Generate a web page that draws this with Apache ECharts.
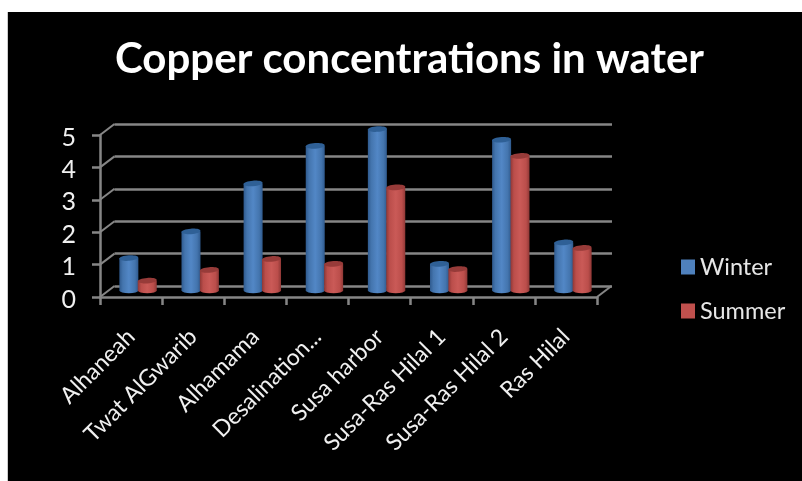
<!DOCTYPE html>
<html><head><meta charset="utf-8">
<style>
html,body{margin:0;padding:0;background:#fff;width:802px;height:481px;overflow:hidden}
#bg{position:absolute;left:7px;top:12px;width:795px;height:469px;background:#000;border-left:1px solid #ccc;box-sizing:border-box}
#chart{position:absolute;left:0;top:0;width:802px;height:481px}
</style>
<script src="https://cdn.jsdelivr.net/npm/echarts@6/dist/echarts.min.js"></script>
</head><body><div id="bg"></div><div id="chart"></div>
<script>
const categories=['Alhaneah','Twat AlGwarib','Alhamama','Desalination...','Susa harbor','Susa-Ras Hilal 1','Susa-Ras Hilal 2','Ras Hilal'];
const winter=[1.08,1.9,3.38,4.54,5.06,0.9,4.73,1.56];
const summer=[0.38,0.71,1.05,0.9,3.26,0.74,4.23,1.39];
const yTicks=[0,1,2,3,4,5];
const FONT='Lato, "Open Sans", sans-serif';
const GRIDC='#868686';
const DX=14.5, DY=-11;
function cyl(base,dark,light,top,off){
  return function(params,api){
    const i=api.value(0), v=api.value(1);
    const c0=api.coord([i,0]), c1=api.coord([i,v]);
    const w=19, rx=w/2, ry=2.8;
    const cx=c0[0]+7+off*9.2;
    const by=c0[1]-6.5, ty=c1[1]-4;
    const l=cx-rx,r=cx+rx;
    const body=`M${l} ${ty} L${l} ${by} A${rx} ${ry} 0 0 0 ${r} ${by} L${r} ${ty} Z`;
    return {type:'group',children:[
      {type:'path',shape:{pathData:body,layout:'cover',x:l,y:ty,width:w,height:by-ty+ry},
       style:{fill:new echarts.graphic.LinearGradient(0,0,1,0,[
         {offset:0,color:dark},{offset:.18,color:base},{offset:.5,color:light},{offset:.82,color:base},{offset:1,color:dark}])}},
      {type:'ellipse',shape:{cx:cx,cy:ty,rx:rx,ry:ry},rotation:0.07,originX:cx,originY:ty,style:{fill:top}}
    ]};
  };
}
const option={
  animation:false,
  backgroundColor:'transparent',
  title:{text:'Copper concentrations in water',left:404.5,top:33,textAlign:'center',
    textStyle:{color:'#fff',fontFamily:FONT,fontWeight:'bold',fontSize:42}},
  legend:{left:676,top:250,orient:'vertical',itemWidth:14,itemHeight:15,itemGap:20,
    data:['Winter','Summer'],icon:'rect',
    textStyle:{color:'#e6e6e6',fontFamily:FONT,fontSize:23.5}},
  grid:[
    {left:100,right:205,top:135,bottom:184},
    {left:114.5,right:190,top:124,bottom:195}
  ],
  xAxis:[
    {type:'category',gridIndex:0,data:categories,boundaryGap:true,
     axisLine:{show:true,lineStyle:{color:GRIDC,width:2.5}},
     axisTick:{show:true,length:8,alignWithLabel:false,lineStyle:{color:GRIDC,width:2.5}},
     axisLabel:{rotate:45,interval:0,color:'#f0f0f0',fontFamily:FONT,fontSize:23,margin:36,hideOverlap:false},
     splitLine:{show:false}},
    {type:'category',gridIndex:1,data:categories,show:false}
  ],
  yAxis:[
    {type:'value',gridIndex:0,min:0,max:5,interval:1,
     axisLine:{show:true,lineStyle:{color:GRIDC,width:2.5}},
     axisTick:{show:true,length:8,lineStyle:{color:GRIDC,width:2.5}},
     axisLabel:{margin:24,formatter:'{d|{value}}',
       rich:{d:{color:'#f0f0f0',fontFamily:FONT,fontSize:25,padding:[5,0,0,0]}}},
     splitLine:{show:false}},
    {type:'value',gridIndex:1,min:0,max:5,interval:1,
     axisLine:{show:false},axisTick:{show:false},axisLabel:{show:false},
     splitLine:{show:true,lineStyle:{color:GRIDC,width:2.5}}}
  ],
  series:[
    {type:'custom',name:'walls',silent:true,xAxisIndex:0,yAxisIndex:0,clip:false,z:1,
     data:yTicks.map(t=>[0,t]),
     renderItem(p,api){
       const c=api.coord([0,api.value(1)]);
       const band=api.size([1,0])[0];
       const x=c[0]-band/2;
       return {type:'line',shape:{x1:x,y1:c[1],x2:x+DX,y2:c[1]+DY},style:{stroke:GRIDC,lineWidth:2}};
     }},
    {type:'custom',name:'floor',silent:true,xAxisIndex:0,yAxisIndex:0,clip:false,z:1,
     data:[[categories.length-1,0]],
     renderItem(p,api){
       const c=api.coord([api.value(0),0]);
       const band=api.size([1,0])[0];
       const x=c[0]+band/2;
       return {type:'line',shape:{x1:x,y1:c[1],x2:x+DX,y2:c[1]+DY},style:{stroke:GRIDC,lineWidth:2}};
     }},
    {type:'custom',name:'Winter',xAxisIndex:0,yAxisIndex:0,clip:false,z:3,
     itemStyle:{color:'#4F81BD'},
     data:winter.map((v,i)=>[i,v]),
     renderItem:cyl('#4475ae','#2f5a8e','#5287c6','#2f6096',-1)},
    {type:'custom',name:'Summer',xAxisIndex:0,yAxisIndex:0,clip:false,z:4,
     itemStyle:{color:'#C0504D'},
     data:summer.map((v,i)=>[i,v]),
     renderItem:cyl('#bb4e4b','#8f3836','#ca5a57','#973b39',1)}
  ]
};
echarts.init(document.getElementById('chart')).setOption(option);
</script></body></html>
